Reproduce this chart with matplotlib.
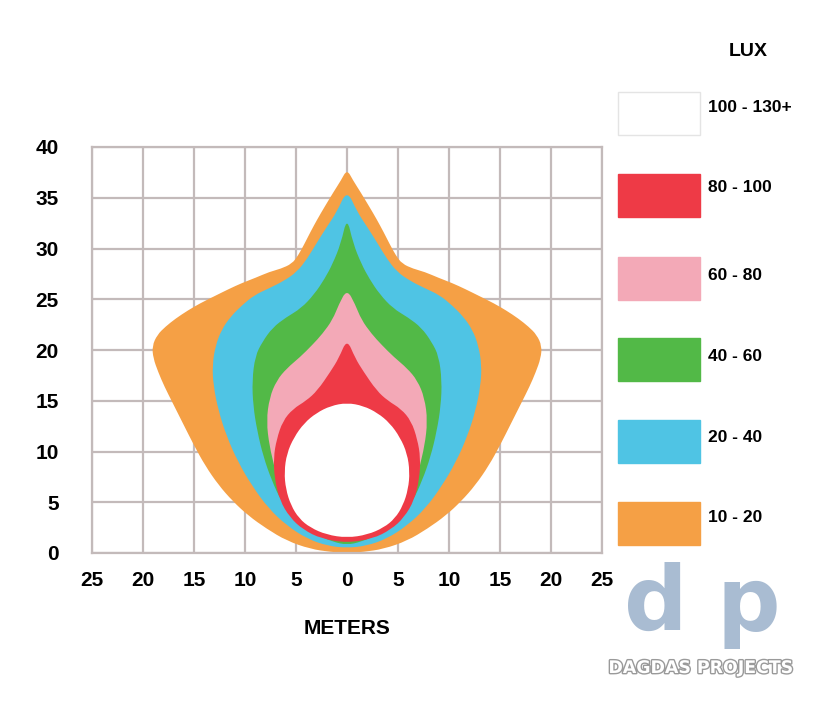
import matplotlib
matplotlib.use('Agg')
import matplotlib.pyplot as plt
import numpy as np
from matplotlib.patches import Rectangle, PathPatch
from matplotlib.path import Path
import matplotlib.patheffects as pe

W, H = 834, 702

# Right-half boundary of each lux zone in meters, from the top tip down to the base
orange_x = [0.0, 0.6, 1.3, 2.2, 2.9, 3.6, 4.2, 4.8, 5.4, 6.5, 7.6, 9.0, 10.3, 11.6,
            13.0, 14.4, 15.6, 16.8, 17.8, 18.6, 19.1, 19.0, 18.5, 17.9, 17.1,
            16.1, 15.0, 13.9, 12.6, 11.2, 9.7, 7.9, 5.9, 3.6, 1.6, 0.0]
orange_y = [37.8, 36.7, 35.6, 34.1, 32.9, 31.6, 30.4, 29.3, 28.5, 28.0, 27.7, 27.1,
            26.6, 26.0, 25.3, 24.6, 23.9, 23.1, 22.3, 21.5, 20.4, 19.2, 17.8,
            16.4, 14.8, 12.8, 10.6, 8.6, 6.7, 5.1, 3.7, 2.4, 1.2, 0.4, 0.1, 0.0]

cyan_x = [0.0, 1.0, 2.0, 3.0, 3.9, 4.9, 6.2, 7.6, 9.1, 10.3, 11.4, 12.3, 12.9, 13.2,
          13.1, 12.6, 11.8, 10.7, 9.3, 7.7, 5.9, 3.9, 1.9, 0.0]
cyan_y = [35.8, 33.6, 32.1, 30.5, 29.0, 27.7, 26.8, 26.1, 25.4, 24.4, 23.3, 22.0,
          20.4, 18.5, 16.5, 14.0, 11.5, 9.0, 6.6, 4.4, 2.7, 1.4, 0.7, 0.5]

green_x = [0.0, 0.6, 1.4, 2.2, 3.2, 4.5, 6.0, 7.3, 8.3, 9.0, 9.3, 9.2, 8.8, 8.2,
           7.4, 6.4, 5.0, 3.2, 1.4, 0.0]
green_y = [33.1, 30.5, 28.5, 27.0, 25.5, 24.1, 23.2, 22.2, 20.8, 19.4, 17.0, 14.5,
           12.0, 9.5, 7.2, 5.0, 3.2, 1.9, 1.1, 0.8]

pink_x = [0.0, 0.8, 1.4, 2.4, 3.4, 4.6, 5.9, 6.9, 7.6, 7.9, 7.6, 7.1, 6.95, 6.4,
          5.4, 4.1, 2.4, 0.0]
pink_y = [26.0, 24.5, 23.0, 21.6, 20.5, 19.3, 18.2, 17.0, 15.3, 13.0, 10.5, 8.5,
          7.3, 5.2, 3.5, 2.3, 1.5, 1.1]

red_x = [0.0, 0.8, 1.6, 2.9, 4.0, 5.3, 6.3, 6.9, 7.2, 7.1, 6.6, 5.6, 4.3, 2.5, 0.0]
red_y = [21.1, 19.2, 17.9, 16.0, 15.0, 14.2, 13.0, 11.2, 9.4, 7.3, 5.2, 3.5, 2.3,
         1.4, 1.0]

white_x = [0.0, 1.6, 3.0, 4.2, 5.2, 5.9, 6.15, 6.0, 5.5, 4.7, 3.6, 2.0, 0.0]
white_y = [14.8, 14.5, 13.8, 12.8, 11.4, 9.8, 8.0, 6.3, 4.7, 3.4, 2.5, 1.8, 1.5]

band_labels = ['100 - 130+', '80 - 100', '60 - 80', '40 - 60', '20 - 40', '10 - 20']
band_colors = ['#ffffff', '#ee3a46', '#f3a9b7', '#52b947', '#4fc4e4', '#f5a045']

x_ticks = [-25, -20, -15, -10, -5, 0, 5, 10, 15, 20, 25]
x_tick_labels = ['25', '20', '15', '10', '5', '0', '5', '10', '15', '20', '25']
y_ticks = [0, 5, 10, 15, 20, 25, 30, 35, 40]
y_tick_labels = ['0', '5', '10', '15', '20', '25', '30', '35', '40']

plt.rcParams['font.family'] = ['Liberation Sans', 'DejaVu Sans']

fig = plt.figure(figsize=(W / 100, H / 100), dpi=100)
fig.patch.set_facecolor('white')


def fx(px):
    return px / W


def fy(py):
    return 1 - py / H


def smooth_closed_path(xs, ys):
    """Closed outline drawn with quadratic curves through the traced points."""
    pts = np.column_stack([xs, ys])
    n = len(pts)
    mids = (pts + np.roll(pts, -1, axis=0)) / 2.0
    verts = [mids[-1]]
    codes = [Path.MOVETO]
    for i in range(n):
        verts += [pts[i], mids[i]]
        codes += [Path.CURVE3, Path.CURVE3]
    verts.append(mids[-1])
    codes.append(Path.CLOSEPOLY)
    return Path(np.array(verts), codes)


ax = fig.add_axes([fx(92), fy(553), (602 - 92) / W, (553 - 147) / H])
ax.set_xlim(-25, 25)
ax.set_ylim(0, 40)

grid_color = '#c3baba'
ax.set_xticks(x_ticks)
ax.set_xticklabels(x_tick_labels)
ax.set_yticks(y_ticks)
ax.set_yticklabels(y_tick_labels)
ax.grid(True, color=grid_color, lw=1.6, zorder=0)
ax.set_axisbelow(True)
for s in ax.spines.values():
    s.set_color(grid_color)
    s.set_linewidth(1.6)
ax.tick_params(length=0, labelsize=15, colors='black')
ax.tick_params(axis='x', pad=13)
ax.tick_params(axis='y', pad=24)
for lab in ax.get_xticklabels() + ax.get_yticklabels():
    lab.set_fontweight('bold')

zones = [(orange_x, orange_y, band_colors[5]),
         (cyan_x, cyan_y, band_colors[4]),
         (green_x, green_y, band_colors[3]),
         (pink_x, pink_y, band_colors[2]),
         (red_x, red_y, band_colors[1]),
         (white_x, white_y, band_colors[0])]
for i, (xr, yr, col) in enumerate(zones):
    xr = np.asarray(xr, dtype=float)
    yr = np.asarray(yr, dtype=float)
    xs = np.concatenate([xr, -xr[-2:0:-1]])
    ys = np.concatenate([yr, yr[-2:0:-1]])
    patch = PathPatch(smooth_closed_path(xs, ys), facecolor=col, lw=0,
                      zorder=2 + i)
    ax.add_patch(patch)

fig.text(fx(347), fy(628), 'METERS', ha='center', va='center',
         fontsize=15, fontweight='bold')

# Legend
fig.text(fx(748), fy(52), 'LUX', ha='center', va='center', fontsize=14,
         fontweight='bold')
box_tops = [92, 174, 257, 338, 420, 502]
label_y = [107, 188, 276, 356, 437, 518]
for lab, col, top, ly in zip(band_labels, band_colors, box_tops, label_y):
    rect = Rectangle((fx(618), fy(top + 43)), 82 / W, 43 / H,
                     transform=fig.transFigure, facecolor=col,
                     edgecolor='#e4e4e4' if col == '#ffffff' else col, lw=1)
    fig.patches.append(rect)
    fig.text(fx(708), fy(ly), lab, ha='left', va='center', fontsize=12.5,
             fontweight='bold')

# Logo
logo_col = '#a9bcd2'
fig.text(fx(656), fy(630), 'd', ha='center', va='baseline', fontsize=64,
         color=logo_col, family='DejaVu Sans', fontweight='bold')
fig.text(fx(748), fy(630), 'p', ha='center', va='baseline', fontsize=64,
         color=logo_col, family='DejaVu Sans', fontweight='bold')
fig.text(fx(701), fy(668), 'DAGDAS PROJECTS', ha='center', va='center',
         fontsize=12.5, color='white', fontweight='bold', family='DejaVu Sans',
         path_effects=[pe.withStroke(linewidth=2, foreground='#9a9a9a')])

fig.savefig('out.png', dpi=100)
